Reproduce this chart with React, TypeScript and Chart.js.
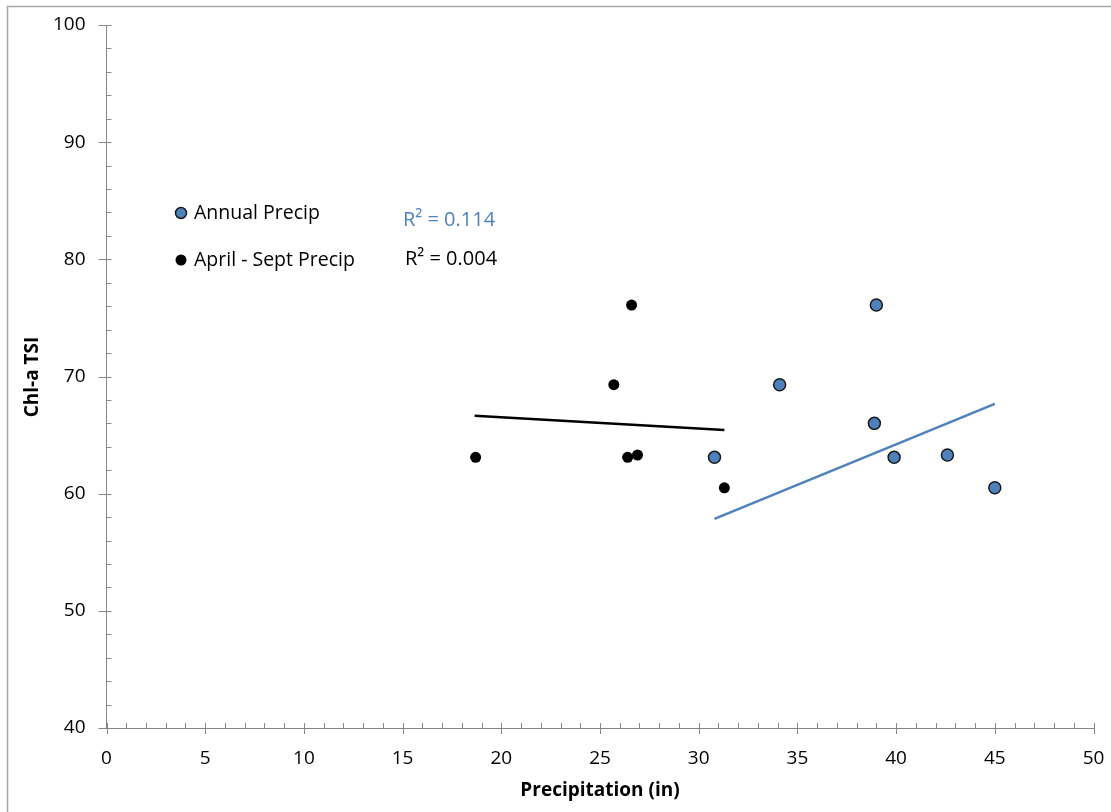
import React, { useEffect, useRef } from "react";
import { Chart, registerables } from "chart.js";

Chart.register(...registerables);

// ---- data ----
const annualX = [30.8, 34.1, 39.0, 38.9, 39.9, 42.6, 45.0];
const annualY = [63.1, 69.3, 76.1, 66.0, 63.1, 63.3, 60.5];
const aprSepX = [18.7, 25.7, 26.6, 26.4, 26.9, 31.3];
const aprSepY = [63.1, 69.3, 76.1, 63.1, 63.3, 60.5];
// trendline endpoints
const annualTrendX = [30.8, 45.0];
const annualTrendY = [57.85, 67.66];
const aprSepTrendX = [18.65, 31.3];
const aprSepTrendY = [66.64, 65.44];

const xTickMin = 0, xTickMax = 50, xStep = 5;
const yTickMin = 40, yTickMax = 100, yStep = 10;

const seriesNames = ["Annual Precip", "April - Sept Precip"];
const r2Labels = ["R² = 0.114", "R² = 0.004"];
const xTitle = "Precipitation (in)";
const yTitle = "Chl-a TSI";

const BLUE = "#4f81bd";
const AXIS = "#868686";
const FONT = "'Open Sans', sans-serif";

const pts = (xs: number[], ys: number[]) => xs.map((x, i) => ({ x, y: ys[i] }));

const noPad = (s: any) => {
  s.paddingTop = 0;
  s.paddingBottom = 0;
  s.paddingLeft = 0;
  s.paddingRight = 0;
};

const decor = {
  id: "decor",
  afterDraw(chart: any) {
    const ctx = chart.ctx;
    const xs = chart.scales.x;
    const ys = chart.scales.y;
    const a = chart.chartArea;
    ctx.save();
    // outer border
    ctx.strokeStyle = "#a6a6a6";
    ctx.lineWidth = 1.5;
    ctx.beginPath();
    ctx.moveTo(7.5, 900);
    ctx.lineTo(7.5, 6.5);
    ctx.lineTo(1200, 6.5);
    ctx.stroke();

    // tick marks
    ctx.strokeStyle = AXIS;
    ctx.lineWidth = 1;
    ctx.beginPath();
    for (let v = xTickMin; v <= xTickMax; v += 1) {
      const px = Math.round(xs.getPixelForValue(v)) + 0.5;
      const major = v % xStep === 0;
      ctx.moveTo(px, a.bottom - 5);
      ctx.lineTo(px, major ? a.bottom + 6 : a.bottom);
    }
    for (let v = yTickMin; v <= yTickMax; v += 2) {
      const py = Math.round(ys.getPixelForValue(v)) + 0.5;
      const major = v % yStep === 0;
      ctx.moveTo(major ? a.left - 8 : a.left, py);
      ctx.lineTo(a.left + 5, py);
    }
    ctx.stroke();

    // legend
    ctx.lineWidth = 1.5;
    ctx.fillStyle = BLUE;
    ctx.strokeStyle = "#1a1a1a";
    ctx.beginPath();
    ctx.arc(181, 213, 5.5, 0, Math.PI * 2);
    ctx.fill();
    ctx.stroke();
    ctx.fillStyle = "#000";
    ctx.beginPath();
    ctx.arc(181, 260, 5.5, 0, Math.PI * 2);
    ctx.fill();

    ctx.font = `19.5px ${FONT}`;
    ctx.textBaseline = "middle";
    ctx.textAlign = "left";
    ctx.fillStyle = "#000";
    ctx.fillText(seriesNames[0], 194, 213);
    ctx.fillText(seriesNames[1], 194, 260);

    ctx.font = `20px ${FONT}`;
    ctx.fillStyle = BLUE;
    ctx.fillText(r2Labels[0], 403, 220);
    ctx.fillStyle = "#000";
    ctx.fillText(r2Labels[1], 405, 259);

    // axis titles
    ctx.font = `bold 19px ${FONT}`;
    ctx.textAlign = "center";
    ctx.fillText(xTitle, 600, 791);
    ctx.save();
    ctx.translate(33, 377);
    ctx.rotate(-Math.PI / 2);
    ctx.fillText(yTitle, 0, 0);
    ctx.restore();

    ctx.restore();
  },
};

export default function App() {
  const ref = useRef<HTMLCanvasElement>(null);
  useEffect(() => {
    const chart = new Chart(ref.current!, {
      type: "scatter",
      data: {
        datasets: [
          {
            label: "Annual trend",
            type: "line",
            data: pts(annualTrendX, annualTrendY),
            borderColor: BLUE,
            borderWidth: 2.5,
            pointRadius: 0,
            fill: false,
          } as any,
          {
            label: "Apr-Sep trend",
            type: "line",
            data: pts(aprSepTrendX, aprSepTrendY),
            borderColor: "#000",
            borderWidth: 2.5,
            pointRadius: 0,
            fill: false,
          } as any,
          {
            label: seriesNames[0],
            data: pts(annualX, annualY),
            backgroundColor: BLUE,
            borderColor: "#1a1a1a",
            borderWidth: 1.5,
            pointRadius: 6,
          },
          {
            label: seriesNames[1],
            data: pts(aprSepX, aprSepY),
            backgroundColor: "#000",
            borderColor: "#000",
            borderWidth: 0,
            pointRadius: 5.5,
          },
        ],
      },
      options: {
        animation: false,
        responsive: false,
        events: [],
        layout: { padding: { top: 25, right: 17.5, left: 0, bottom: 0 } },
        plugins: { legend: { display: false }, tooltip: { enabled: false } },
        scales: {
          x: {
            type: "linear",
            min: xTickMin,
            max: xTickMax,
            ticks: { stepSize: xStep, padding: 19, color: "#000", font: { family: FONT, size: 19 } },
            grid: { display: true, drawOnChartArea: false, drawTicks: false },
            border: { display: true, color: AXIS, width: 1 },
            afterFit: (s: any) => { s.height = 84; noPad(s); },
          },
          y: {
            type: "linear",
            min: yTickMin,
            max: yTickMax,
            ticks: { stepSize: yStep, padding: 21, color: "#000", font: { family: FONT, size: 19 } },
            grid: { display: true, drawOnChartArea: false, drawTicks: false },
            border: { display: true, color: AXIS, width: 1 },
            afterFit: (s: any) => { s.width = 106.5; noPad(s); },
          },
        },
      },
      plugins: [decor],
    });
    return () => chart.destroy();
  }, []);
  return (
    <div style={{ position: "absolute", left: 0, top: 0, width: 1111, height: 812, background: "#fff" }}>
      <canvas ref={ref} width={1111} height={812} />
    </div>
  );
}
